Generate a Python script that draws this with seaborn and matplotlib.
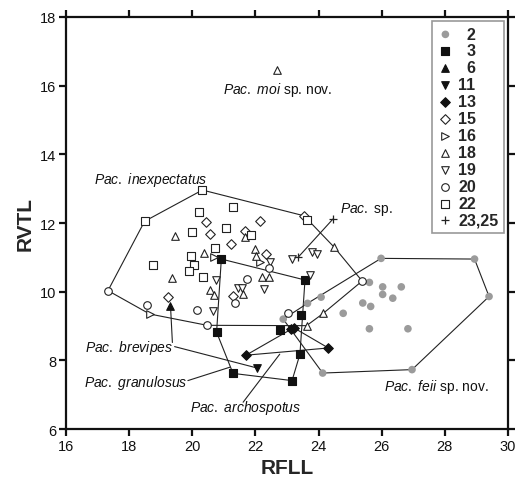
import matplotlib
matplotlib.use("Agg")
import matplotlib.pyplot as plt
import seaborn as sns
import pandas as pd

# Relative fore-limb length (x) vs relative vent-tail length (y), by locality group
rfll_2 = [25.98, 28.94, 29.40, 26.96, 24.13, 25.61, 26.03, 26.62, 26.03, 26.35,
          25.40, 25.65, 24.78, 25.61, 26.83, 24.08, 23.65, 22.88]
rvtl_2 = [10.97, 10.95, 9.86, 7.73, 7.63, 10.27, 10.14, 10.14, 9.92, 9.81,
          9.67, 9.57, 9.37, 8.92, 8.92, 9.84, 9.66, 9.20]
rfll_3 = [20.92, 23.57, 20.77, 21.29, 23.16, 23.41, 22.77, 23.43]
rvtl_3 = [10.95, 10.34, 8.82, 7.62, 7.41, 8.18, 8.88, 9.32]
rfll_6 = [19.31]
rvtl_6 = [9.59]
rfll_11 = [22.04]
rvtl_11 = [7.78]
rfll_13 = [21.70, 23.23, 23.14, 24.31]
rvtl_13 = [8.15, 8.94, 8.91, 8.36]
rfll_15 = [23.54, 20.42, 22.14, 20.55, 21.66, 21.23, 22.35, 21.29, 19.23]
rvtl_15 = [12.21, 12.03, 12.07, 11.68, 11.78, 11.38, 11.10, 9.88, 9.85]
rfll_16 = [20.70, 18.65, 22.14]
rvtl_16 = [11.02, 9.35, 10.85]
rfll_18 = [19.44, 20.37, 21.66, 21.98, 22.01, 22.21, 22.43, 19.36, 20.55, 20.70,
           21.60, 24.50, 24.15, 23.62]
rvtl_18 = [11.61, 11.12, 11.59, 11.24, 11.05, 10.44, 10.43, 10.41, 10.04, 9.89,
           9.93, 11.29, 9.37, 9.01]
rfll_moi = [22.67]   # also locality 18, Pac. moi sp. nov.
rvtl_moi = [16.46]
rfll_19 = [22.46, 23.17, 23.79, 23.96, 23.73, 20.75, 22.28, 21.46, 21.57, 20.67]
rvtl_19 = [10.86, 10.95, 11.17, 11.11, 10.48, 10.35, 10.08, 10.11, 10.11, 9.43]
rfll_20 = [17.33, 18.58, 20.15, 20.47, 21.36, 21.74, 22.43, 25.38, 23.04]
rvtl_20 = [10.03, 9.61, 9.47, 9.02, 9.68, 10.38, 10.68, 10.31, 9.38]
rfll_22 = [20.32, 18.49, 21.29, 20.21, 21.08, 21.85, 19.99, 20.73, 19.97, 18.75,
           20.05, 19.89, 20.34, 23.62]
rvtl_22 = [12.96, 12.05, 12.48, 12.31, 11.84, 11.66, 11.75, 11.26, 11.05, 10.78,
           10.78, 10.61, 10.44, 12.10]
rfll_23 = [23.35, 24.46]
rvtl_23 = [11.00, 12.12]

x_ticks = [16, 18, 20, 22, 24, 26, 28, 30]
y_ticks = [6, 8, 10, 12, 14, 16, 18]

# (legend label, x, y, marker, face, edge)
groups = [
    ("  2", rfll_2, rvtl_2, "o", "#9b9b9b", "none"),
    ("  3", rfll_3, rvtl_3, "s", "#111111", "#111111"),
    ("  6", rfll_6, rvtl_6, "^", "#111111", "#111111"),
    ("11", rfll_11, rvtl_11, "v", "#111111", "#111111"),
    ("13", rfll_13, rvtl_13, "D", "#111111", "#111111"),
    ("15", rfll_15, rvtl_15, "D", "white", "#222222"),
    ("16", rfll_16, rvtl_16, ">", "white", "#222222"),
    ("18", rfll_18 + rfll_moi, rvtl_18 + rvtl_moi, "^", "white", "#222222"),
    ("19", rfll_19, rvtl_19, "v", "white", "#222222"),
    ("20", rfll_20, rvtl_20, "o", "white", "#222222"),
    ("22", rfll_22, rvtl_22, "s", "white", "#222222"),
    ("23,25", rfll_23, rvtl_23, "+", "#222222", "#222222"),
]
sizes = {"o": 30, "s": 28, "^": 30, "v": 30, "D": 24, ">": 30, "+": 40}


def convex_hull(xs, ys):
    pts = sorted(set(zip(xs, ys)))

    def cross(o, a, b):
        return (a[0] - o[0]) * (b[1] - o[1]) - (a[1] - o[1]) * (b[0] - o[0])

    lower, upper = [], []
    for p in pts:
        while len(lower) >= 2 and cross(lower[-2], lower[-1], p) <= 0:
            lower.pop()
        lower.append(p)
    for p in reversed(pts):
        while len(upper) >= 2 and cross(upper[-2], upper[-1], p) <= 0:
            upper.pop()
        upper.append(p)
    ring = lower[:-1] + upper[:-1]
    ring.append(ring[0])
    return [p[0] for p in ring], [p[1] for p in ring]


sns.set_style("ticks")
plt.rcParams["font.family"] = ["Liberation Sans", "DejaVu Sans"]
plt.rcParams["mathtext.fontset"] = "custom"
plt.rcParams["mathtext.it"] = "Liberation Sans:italic"
plt.rcParams["mathtext.rm"] = "Liberation Sans"

fig = plt.figure(figsize=(5.18, 4.81), dpi=100)
ax = fig.add_axes([0.1274, 0.106, 0.8533, 0.8566])

# convex hulls of the species
open_x = rfll_15 + rfll_16 + rfll_18 + rfll_19 + rfll_20 + rfll_22
open_y = rvtl_15 + rvtl_16 + rvtl_18 + rvtl_19 + rvtl_20 + rvtl_22
for hx, hy in [(open_x, open_y), (rfll_2, rvtl_2), (rfll_3, rvtl_3), (rfll_13, rvtl_13)]:
    cx, cy = convex_hull(hx, hy)
    ax.plot(cx, cy, color="#222222", lw=0.8, zorder=1)
ax.plot(rfll_23, rvtl_23, color="#222222", lw=0.8, zorder=1)

# leader lines from labels
leaders = [
    ([19.37, rfll_6[0]], [8.52, rvtl_6[0]]),
    ([19.44, rfll_11[0]], [8.40, rvtl_11[0]]),
    ([19.86, 21.19], [7.41, 7.80]),
    ([21.61, 22.77], [6.78, 8.18]),
]
for lx, ly in leaders:
    ax.plot(lx, ly, color="#222222", lw=0.8, zorder=1)

for label, xs, ys, m, fc, ec in groups:
    df = pd.DataFrame({"RFLL": xs, "RVTL": ys})
    if m == "+":
        sns.scatterplot(data=df, x="RFLL", y="RVTL", marker=m, s=sizes[m], color=fc,
                        linewidth=0.9, label=label, ax=ax, zorder=3)
    else:
        sns.scatterplot(data=df, x="RFLL", y="RVTL", marker=m, s=sizes[m], facecolor=fc,
                        edgecolor=ec, linewidth=0.8, label=label, ax=ax, zorder=3)

# species labels
lab_kw = dict(fontsize=10, color="#111111", zorder=4)
ax.text(18.68, 13.28, r"$\mathit{Pac.\ inexpectatus}$", ha="center", va="center", **lab_kw)
ax.text(22.71, 15.90, r"$\mathit{Pac.\ moi}$ sp. nov.", ha="center", va="center", **lab_kw)
ax.text(24.68, 12.41, r"$\mathit{Pac.}$ sp.", ha="left", va="center", **lab_kw)
ax.text(19.38, 8.39, r"$\mathit{Pac.\ brevipes}$", ha="right", va="center", **lab_kw)
ax.text(19.85, 7.37, r"$\mathit{Pac.\ granulosus}$", ha="right", va="center", **lab_kw)
ax.text(21.69, 6.64, r"$\mathit{Pac.\ archospotus}$", ha="center", va="center", **lab_kw)
ax.text(27.73, 7.25, r"$\mathit{Pac.\ feii}$ sp. nov.", ha="center", va="center", **lab_kw)

ax.set_xlim(16, 30)
ax.set_ylim(6, 18)
ax.set_xticks(x_ticks)
ax.set_yticks(y_ticks)
ax.set_xlabel("RFLL", fontsize=15, fontweight="bold", labelpad=4)
ax.set_ylabel("RVTL", fontsize=15, fontweight="bold", labelpad=4)
for side in ["left", "right", "top", "bottom"]:
    ax.spines[side].set_visible(True)
    ax.spines[side].set_linewidth(1.6)
    ax.spines[side].set_color("#111111")
ax.tick_params(direction="out", length=5, width=1.6, labelsize=10.5, colors="#111111",
               top=True, right=True, labeltop=False, labelright=False, pad=2)

leg = ax.legend(loc="upper right", frameon=True, fancybox=False, framealpha=1,
                edgecolor="#999999", borderaxespad=0.25, labelspacing=0.12,
                handletextpad=0.3, handlelength=1.0, borderpad=0.35,
                prop={"weight": "bold", "size": 11.5})
leg.get_frame().set_linewidth(1.2)

fig.savefig("out.png", dpi=100)
